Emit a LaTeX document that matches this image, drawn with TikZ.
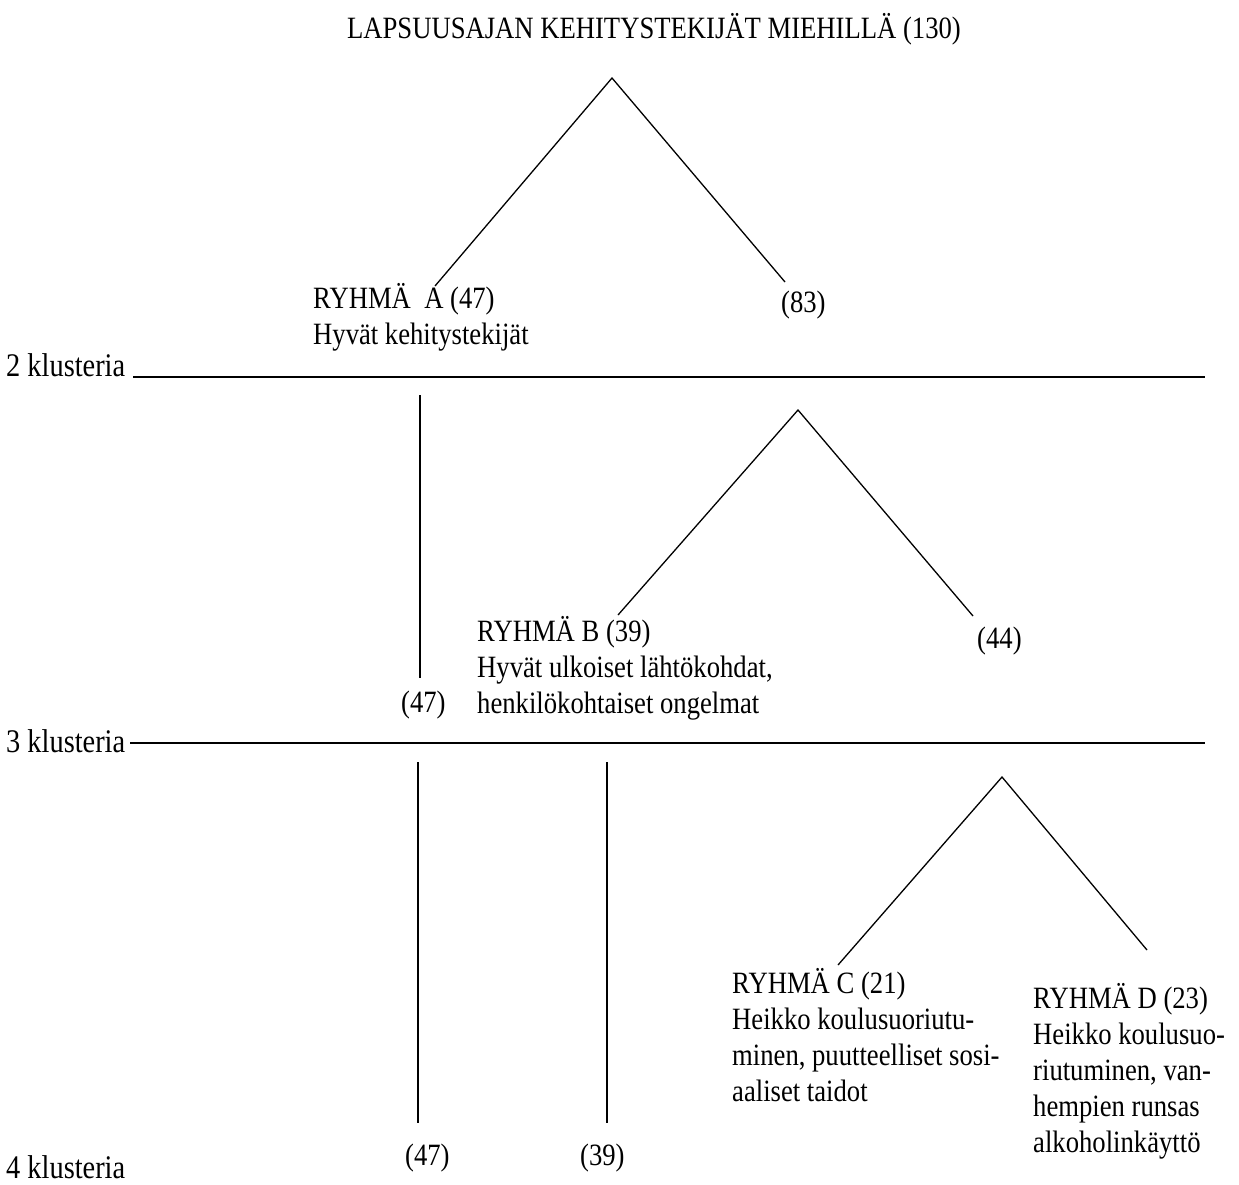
\documentclass[tikz,border=0pt]{standalone}
\usepackage{fontspec}
\setmainfont{Liberation Serif}[FakeStretch=0.86]
\begin{document}
\begin{tikzpicture}[x=1pt,y=-1pt,
  lbl/.style={anchor=base west,inner sep=0pt,font=\fontsize{31}{36}\selectfont},
  lvl/.style={anchor=base west,inner sep=0pt,font=\fontsize{33}{36}\selectfont},
  branch/.style={line width=1.3pt},
  stem/.style={line width=1.5pt},
  level/.style={line width=1.8pt}]
\useasboundingbox (0,0) rectangle (1239,1184);
\newcommand{\stack}[1]{\begin{tabular}[t]{@{}l@{}}#1\end{tabular}}

% title
\node[lbl,anchor=base] (title) at (654,38) {LAPSUUSAJAN KEHITYSTEKIJÄT MIEHILLÄ (130)};

% cluster levels
\node[lvl] (k2) at (6,376) {2 klusteria};
\node[lvl] (k3) at (6,752) {3 klusteria};
\node[lvl] (k4) at (6,1178) {4 klusteria};
\coordinate (k2a) at (133,377); \coordinate (k2b) at (1205,377);
\coordinate (k3a) at (130,743); \coordinate (k3b) at (1205,743);
\draw[level] (k2a) -- (k2b);
\draw[level] (k3a) -- (k3b);

% first split
\coordinate (t1) at (612,78);
\coordinate (t1l) at (435,286);
\coordinate (t1r) at (785,282);
\draw[branch] (t1l) -- (t1) -- (t1r);
\node[lbl] (gA) at (313,308) {\stack{RYHMÄ\ \ A (47)\\Hyvät kehitystekijät}};
\node[lbl] (n83) at (781,312) {(83)};

% second split
\coordinate (vA1) at (420,395); \coordinate (vA2) at (420,678);
\draw[stem] (vA1) -- (vA2);
\node[lbl] (nA3) at (401,712) {(47)};
\coordinate (t2) at (798,410);
\coordinate (t2l) at (618,615);
\coordinate (t2r) at (973,616);
\draw[branch] (t2l) -- (t2) -- (t2r);
\node[lbl] (gB) at (477,641) {\stack{RYHMÄ B (39)\\Hyvät ulkoiset lähtökohdat,\\henkilökohtaiset ongelmat}};
\node[lbl] (n44) at (977,648) {(44)};

% third split
\coordinate (vA3) at (418,762); \coordinate (vA4) at (418,1123);
\coordinate (vB1) at (607,762); \coordinate (vB2) at (607,1123);
\draw[stem] (vA3) -- (vA4);
\draw[stem] (vB1) -- (vB2);
\node[lbl] (nA4) at (405,1165) {(47)};
\node[lbl] (nB4) at (580,1165) {(39)};
\coordinate (t3) at (1002,777);
\coordinate (t3l) at (838,965);
\coordinate (t3r) at (1147,950);
\draw[branch] (t3l) -- (t3) -- (t3r);
\node[lbl] (gC) at (732,993) {\stack{RYHMÄ C (21)\\Heikko koulusuoriutu-\\minen, puutteelliset sosi-\\aaliset taidot}};
\node[lbl] (gD) at (1033,1008) {\stack{RYHMÄ D (23)\\Heikko koulusuo-\\riutuminen, van-\\hempien runsas\\alkoholinkäyttö}};
\end{tikzpicture}
\end{document}
